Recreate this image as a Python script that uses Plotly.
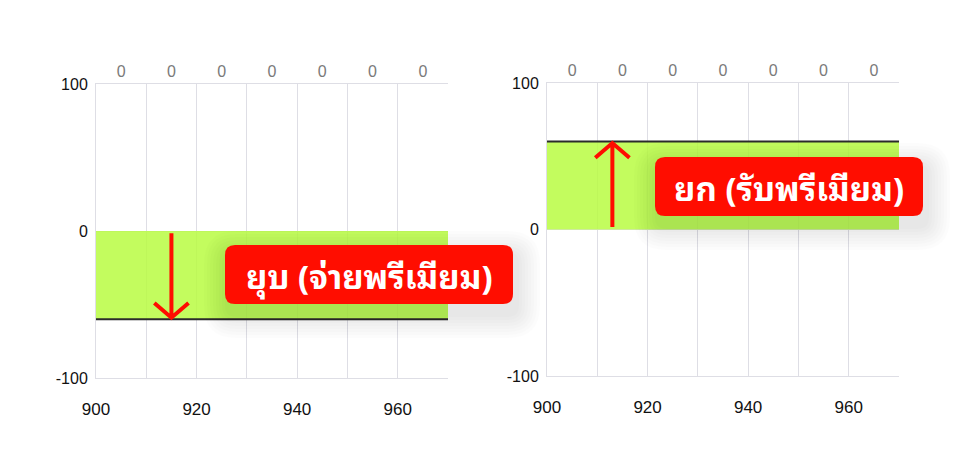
import plotly.graph_objects as go

# page has an 8px body margin, so the figure is a bit smaller than the window
OFF = 8
W, H = 959 - 2 * OFF, 463 - 2 * OFF

# axis data
x_range = [900, 970]
y_range = [-100, 100]
grid_x = [900, 910, 920, 930, 940, 950, 960]
x_tick_labels = ['900', '', '920', '', '940', '', '960']
y_ticks = [-100, 0, 100]
y_tick_labels = ['-100', '0', '100']
top_x = [905, 915, 925, 935, 945, 955, 965]
top_labels = ['0', '0', '0', '0', '0', '0', '0']

# the two panels (left = short, right = long)
levels = [-60, 60]
arrow_x = [915, 913]
arrow_start = [-1.5, 1.7]
arrow_end = [-59, 59]
labels = ['ยุบ (จ่ายพรีเมียม)', 'ยก (รับพรีเมียม)']

GREEN = 'rgba(184,251,66,0.85)'
RED = '#ff0d00'
GRID = '#dedee5'
BASE = 'Arial, Liberation Sans, sans-serif'
THAI_FONT = 'Noto Sans Thai Looped, Noto Sans Thai, Tahoma, Noto Sans, sans-serif'


def px(x):
    return (x - OFF) / W


def py(y):
    return 1 - (y - OFF) / H


def rounded_rect(x0, y0, x1, y1, r):
    # path in paper coords from a pixel box
    rx, ry = r / W, r / H
    a, b, c, d = px(x0), py(y1), px(x1), py(y0)  # left, bottom, right, top
    return (f'M{a+rx},{b} L{c-rx},{b} Q{c},{b} {c},{b+ry} L{c},{d-ry} Q{c},{d} {c-rx},{d} '
            f'L{a+rx},{d} Q{a},{d} {a},{d-ry} L{a},{b+ry} Q{a},{b} {a+rx},{b} Z')


fig = go.Figure()

panels = [
    dict(xa='x', ya='y', xt='x3', dom_x=[96, 448], dom_y=[84, 378], box=[225, 245, 513, 304]),
    dict(xa='x2', ya='y2', xt='x4', dom_x=[547, 899], dom_y=[83, 376], box=[655, 157, 923, 216]),
]

shapes = []
annotations = []
for i, p in enumerate(panels):
    fig.add_trace(go.Scatter(
        x=x_range, y=[levels[i], levels[i]],
        mode='lines', fill='tozeroy', fillcolor=GREEN,
        line=dict(color='#2b2b2b', width=2),
        xaxis=p['xa'], yaxis=p['ya'], hoverinfo='skip', showlegend=False
    ))
    # invisible trace so the top label axis is drawn
    fig.add_trace(go.Scatter(
        x=top_x, y=[0] * len(top_x), mode='markers', marker=dict(opacity=0),
        xaxis=p['xt'], yaxis=p['ya'], hoverinfo='skip', showlegend=False
    ))

    # arrow
    ax, y0, y1 = arrow_x[i], arrow_start[i], arrow_end[i]
    hw = 3.4
    hh = 10 if y1 > y0 else -10
    shapes.append(dict(
        type='path', xref=p['xa'], yref=p['ya'], layer='above',
        path=f'M{ax},{y0} L{ax},{y1} M{ax-hw},{y1-hh} L{ax},{y1} L{ax+hw},{y1-hh}',
        line=dict(color=RED, width=4)
    ))

    # label box with soft shadow
    bx0, by0, bx1, by1 = p['box']
    for k in range(8, 0, -1):
        g = 3 * k
        shapes.append(dict(
            type='path', xref='paper', yref='paper', layer='above',
            path=rounded_rect(bx0 - g + 3, by0 - g + 10, bx1 + g + 3, by1 + g + 10, 8 + g),
            fillcolor='rgba(0,0,0,0.011)', line=dict(width=0)
        ))
    shapes.append(dict(
        type='path', xref='paper', yref='paper', layer='above',
        path=rounded_rect(bx0, by0, bx1, by1, 10),
        fillcolor=RED, line=dict(width=0)
    ))
    annotations.append(dict(
        x=px((bx0 + bx1) / 2), y=py((by0 + by1) / 2), xref='paper', yref='paper',
        text=f'<b>{labels[i]}</b>', showarrow=False, xanchor='center', yanchor='middle',
        font=dict(family=THAI_FONT, size=33, color='white')
    ))

layout = dict(
    width=W, height=H,
    margin=dict(l=0, r=0, t=0, b=0),
    paper_bgcolor='white', plot_bgcolor='white',
    shapes=shapes, annotations=annotations,
)

for p in panels:
    xkey = 'xaxis' + p['xa'][1:]
    ykey = 'yaxis' + p['ya'][1:]
    tkey = 'xaxis' + p['xt'][1:]
    dom_x = [px(p['dom_x'][0]), px(p['dom_x'][1])]
    dom_y = [py(p['dom_y'][1]), py(p['dom_y'][0])]
    layout[xkey] = dict(
        domain=dom_x, range=x_range, anchor=p['ya'],
        tickmode='array', tickvals=grid_x, ticktext=x_tick_labels,
        showgrid=True, gridcolor=GRID, gridwidth=1, zeroline=False,
        showline=True, linecolor=GRID, linewidth=1,
        ticks='', tickfont=dict(family=BASE, size=17, color='#111'),
        ticklabelstandoff=16, automargin=False
    )
    layout[ykey] = dict(
        domain=dom_y, range=y_range, anchor=p['xa'],
        tickmode='array', tickvals=y_ticks, ticktext=y_tick_labels,
        showgrid=True, gridcolor=GRID, gridwidth=1, zeroline=False,
        showline=True, linecolor=GRID, linewidth=1,
        ticks='', tickfont=dict(family=BASE, size=16, color='#111'),
        ticklabelstandoff=4, automargin=False
    )
    layout[tkey] = dict(
        overlaying=p['xa'], anchor=p['ya'], side='top', range=x_range,
        tickmode='array', tickvals=top_x, ticktext=top_labels,
        showgrid=False, zeroline=False, showline=True, linecolor=GRID, linewidth=1,
        ticks='', tickfont=dict(family=BASE, size=16, color='#7a7a7a'),
        ticklabelstandoff=0, automargin=False
    )

fig.update_layout(**layout)
fig.write_html('out.html')
